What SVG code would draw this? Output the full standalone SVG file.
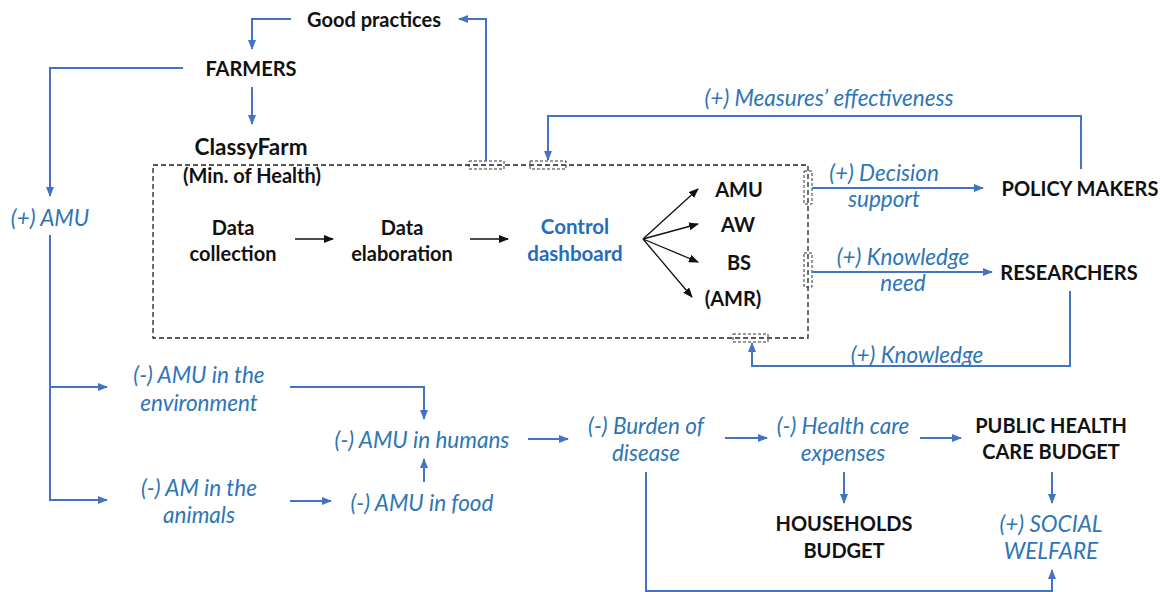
<svg xmlns="http://www.w3.org/2000/svg" width="1160" height="592" viewBox="0 0 1160 592">
<defs>
<style>
text{font-family:Lato,"Open Sans","Liberation Sans",sans-serif;text-anchor:middle;dominant-baseline:central}
.b{font-weight:bold;font-size:20px;fill:#111}
.i{font-style:italic;font-size:22.5px;fill:#2E75B6}
.cd{font-weight:bold;font-size:20.5px;fill:#1F6EBF}
.c{stroke:#4472C4;stroke-width:2;fill:none;marker-end:url(#ab)}
.k{stroke:#111;stroke-width:1.3;fill:none;marker-end:url(#ak)}
.d{stroke:#222;stroke-width:1.3;stroke-dasharray:5 3;fill:none}
.p{stroke:#333;stroke-width:1;stroke-dasharray:3 2;fill:none}
</style>
<marker id="ab" markerWidth="10" markerHeight="8" refX="9" refY="4" orient="auto" markerUnits="userSpaceOnUse"><path d="M0,0 L10,4 L0,8 z" fill="#4472C4"/></marker>
<marker id="ak" markerWidth="10" markerHeight="8" refX="9" refY="4" orient="auto" markerUnits="userSpaceOnUse"><path d="M0,0 L10,4 L0,8 z" fill="#111"/></marker>
</defs>
<rect width="1160" height="592" fill="#fff"/>

<g id="dashboard-box">
<rect class="d" x="153" y="165" width="655" height="173"/>
<rect class="p" x="469" y="161" width="35" height="8"/>
<rect class="p" x="530" y="161" width="36" height="8"/>
<rect class="p" x="804" y="171" width="8" height="33"/>
<rect class="p" x="804" y="253" width="8" height="34"/>
<rect class="p" x="733" y="334" width="35" height="8"/>
</g>

<g id="connectors">
<path class="c" d="M291,19 H252 V49"/>
<path class="c" d="M252,87 V124"/>
<path class="c" d="M183,68 H50 V196"/>
<path class="c" d="M50,235 V500 H107"/>
<path class="c" d="M50,387 H107"/>
<path class="c" d="M290,387 H424 V419"/>
<path class="c" d="M290,501 H331"/>
<path class="c" d="M424,482 V459"/>
<path class="c" d="M528,439 H568"/>
<path class="c" d="M725,438 H767"/>
<path class="c" d="M920,438 H961"/>
<path class="c" d="M844,472 V503"/>
<path class="c" d="M1052,472 V503"/>
<path class="c" d="M646,472 V591 H1052 V570"/>
<path class="c" d="M486,161 V19 H459"/>
<path class="c" d="M1081,169 V116 H548 V160"/>
<path class="c" d="M812,188 H983"/>
<path class="c" d="M812,272 H992"/>
<path class="c" d="M1070,291 V366 H752 V343"/>
<path class="k" d="M295,239 H333"/>
<path class="k" d="M470,239 H508"/>
<path class="k" d="M643,239 L698,189"/>
<path class="k" d="M643,239 L698,224"/>
<path class="k" d="M643,239 L698,262"/>
<path class="k" d="M643,239 L692,297"/>
</g>

<g id="good-practices"><text class="b" x="374" y="19">Good practices</text></g>
<g id="farmers"><text class="b" x="251" y="68">FARMERS</text></g>
<g id="classyfarm"><text class="b" x="251" y="146" style="font-size:22.5px">ClassyFarm</text><text class="b" x="252" y="175">(Min. of Health)</text></g>
<g id="data-collection"><text class="b" x="233" y="227">Data</text><text class="b" x="233" y="253">collection</text></g>
<g id="data-elaboration"><text class="b" x="402" y="227">Data</text><text class="b" x="402" y="253">elaboration</text></g>
<g id="control-dashboard"><text class="cd" x="575" y="226">Control</text><text class="cd" x="575" y="253">dashboard</text></g>
<g id="amu"><text class="b" x="739" y="189">AMU</text></g>
<g id="aw"><text class="b" x="738" y="224">AW</text></g>
<g id="bs"><text class="b" x="739" y="262">BS</text></g>
<g id="amr"><text class="b" x="733" y="298">(AMR)</text></g>
<g id="policy-makers"><text class="b" x="1080" y="188">POLICY MAKERS</text></g>
<g id="researchers"><text class="b" x="1069" y="272">RESEARCHERS</text></g>
<g id="lbl-measures"><text class="i" x="829" y="97">(+) Measures’ effectiveness</text></g>
<g id="lbl-decision"><text class="i" x="884" y="172">(+) Decision</text><text class="i" x="884" y="198">support</text></g>
<g id="lbl-knowledge-need"><text class="i" x="903" y="256">(+) Knowledge</text><text class="i" x="903" y="282">need</text></g>
<g id="lbl-knowledge"><text class="i" x="917" y="354">(+) Knowledge</text></g>
<g id="plus-amu"><text class="i" x="50" y="217">(+) AMU</text></g>
<g id="amu-env"><text class="i" x="199" y="374">(-) AMU in the</text><text class="i" x="199" y="402">environment</text></g>
<g id="am-animals"><text class="i" x="199" y="487">(-) AM in the</text><text class="i" x="199" y="514">animals</text></g>
<g id="amu-humans"><text class="i" x="422" y="439">(-) AMU in humans</text></g>
<g id="amu-food"><text class="i" x="422" y="502">(-) AMU in food</text></g>
<g id="burden"><text class="i" x="646" y="425">(-) Burden of</text><text class="i" x="646" y="452">disease</text></g>
<g id="health-care"><text class="i" x="843" y="425">(-) Health care</text><text class="i" x="843" y="452">expenses</text></g>
<g id="public-health"><text class="b" x="1051" y="425">PUBLIC HEALTH</text><text class="b" x="1051" y="451">CARE BUDGET</text></g>
<g id="households"><text class="b" x="844" y="523">HOUSEHOLDS</text><text class="b" x="844" y="550">BUDGET</text></g>
<g id="social-welfare"><text class="i" x="1051" y="523">(+) SOCIAL</text><text class="i" x="1051" y="550">WELFARE</text></g>
</svg>
